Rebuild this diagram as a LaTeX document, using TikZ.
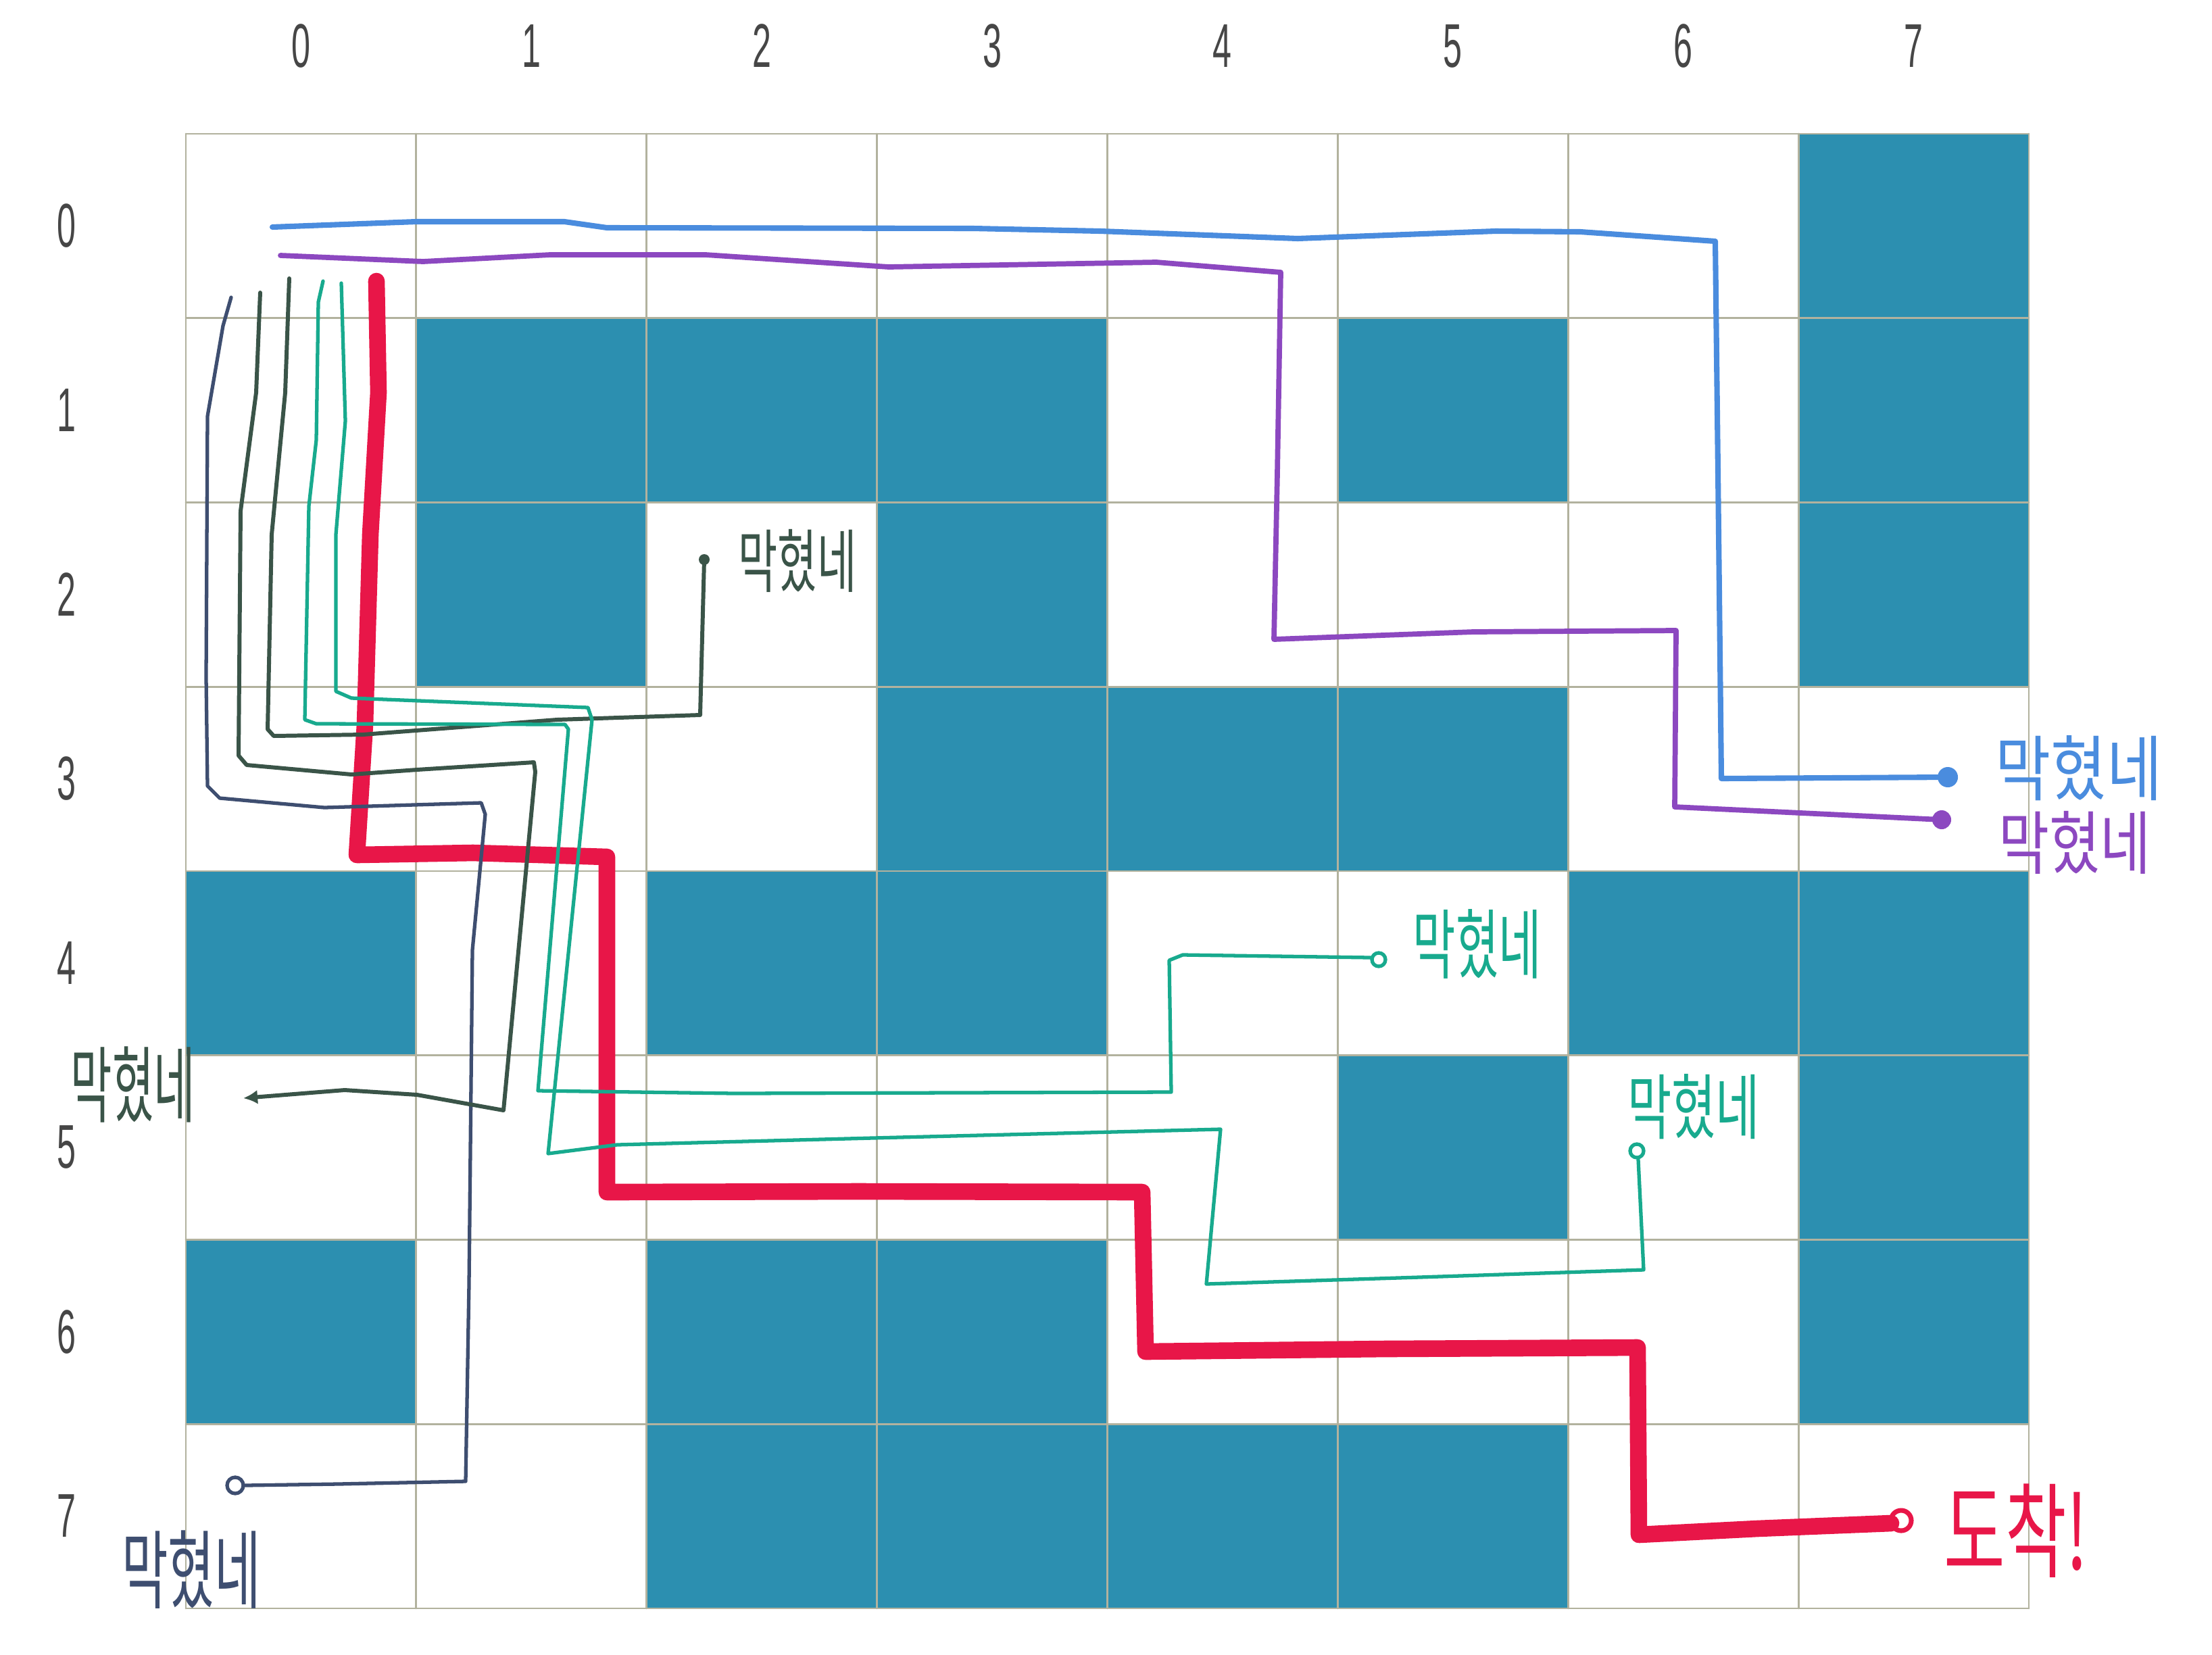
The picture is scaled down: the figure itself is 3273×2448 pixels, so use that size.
\documentclass[tikz,border=0pt]{standalone}
\usepackage{fontspec}
\usepackage{graphicx}
\setmainfont{Liberation Sans}
\newfontfamily\kr{Noto Sans CJK KR}
\usetikzlibrary{arrows.meta}
\definecolor{cellblue}{RGB}{44,143,176}
\definecolor{gridc}{RGB}{178,178,158}
\definecolor{penblue}{RGB}{74,140,222}
\definecolor{penpurple}{RGB}{140,72,192}
\definecolor{pennavy}{RGB}{62,78,112}
\definecolor{pengreen}{RGB}{58,84,72}
\definecolor{penteal}{RGB}{24,170,142}
\definecolor{penred}{RGB}{232,22,72}
\definecolor{digitc}{RGB}{70,70,70}
\begin{document}
\begin{tikzpicture}[x=0.01cm,y=-0.01cm,line cap=round,line join=round,
  cellfill/.style={fill=cellblue},
  gridline/.style={draw=gridc,line width=0.8pt},
  digitlabel/.style={font=\fontsize{26}{26}\selectfont,text=digitc,inner sep=0pt},
  hand/.style={font=\kr\fontsize{20}{24}\selectfont,inner sep=0pt},
  redpen/.style={draw=penred,line width=7pt},
  bluepen/.style={draw=penblue,line width=2.3pt},
  purplepen/.style={draw=penpurple,line width=2.2pt},
  navypen/.style={draw=pennavy,line width=1.5pt},
  greenpen/.style={draw=pengreen,line width=1.7pt},
  tealpen/.style={draw=penteal,line width=1.5pt}]
\useasboundingbox (0,0) rectangle (3273,2448);
\fill[white] (0,0) rectangle (3273,2448);
% blocked cells
\foreach \r/\c in {0/7,1/1,1/2,1/3,1/5,1/7,2/1,2/3,2/7,3/3,3/4,3/5,4/0,4/2,4/3,4/6,4/7,5/5,5/7,6/0,6/2,6/3,6/7,7/2,7/3,7/4,7/5}
  \fill[cellfill] ({275+340.875*\c},{198+272.75*\r}) rectangle ++(340.875,272.75);
% grid
\foreach \i in {0,...,8} {
  \draw[gridline] ({275+340.875*\i},198) -- ({275+340.875*\i},2380);
  \draw[gridline] (275,{198+272.75*\i}) -- (3002,{198+272.75*\i});
}
% axis labels
\foreach \i in {0,...,7} {
  \node[digitlabel] (col\i) at ({445.4+340.875*\i},68) {\scalebox{0.55}[1]{\i}};
  \node[digitlabel] (row\i) at (98,{334+272.75*\i}) {\scalebox{0.55}[1]{\i}};
}
% named end points
\coordinate (redS) at (557,416);   \coordinate (redE) at (2798,2254);
\coordinate (blueS) at (403,336);  \coordinate (blueE) at (2882,1150);
\coordinate (purpS) at (415,378);  \coordinate (purpE) at (2873,1213);
\coordinate (navyS) at (342,440);  \coordinate (navyE) at (362,2198);
\coordinate (gtwoS) at (385,433);  \coordinate (gtwoE) at (360,1625);
\coordinate (gthrS) at (428,412);  \coordinate (gthrE) at (1042,828);
\coordinate (tonS) at (478,416);   \coordinate (tonE) at (2028,1417);
\coordinate (ttwS) at (505,419);   \coordinate (ttwE) at (2424,1716);
% red path
\draw[redpen] (redS) -- (560,581) -- (548,791) -- (540,1072) -- (528,1265) -- (700,1262) -- (898,1268) -- (898,1500) -- (898,1764) -- (1270,1763) -- (1690,1764) -- (1695,2000) -- (2050,1996) -- (2423,1994) -- (2425,2271) -- (2600,2262) -- (redE);
\draw[penred,line width=2pt] (2813,2250) circle (0.15cm);
% blue path
\draw[bluepen] (blueS) -- (616,328) -- (835,328) -- (898,337) -- (1440,338) -- (1628,342) -- (1920,353) -- (2213,342) -- (2338,343) -- (2538,357) -- (2542,700) -- (2547,1152) -- (blueE);
\fill[penblue] (blueE) circle (0.15cm);
% purple path
\draw[purplepen] (purpS) -- (626,387) -- (814,377) -- (1044,377) -- (1315,395) -- (1711,388) -- (1895,403) -- (1890,700) -- (1885,946) -- (2180,935) -- (2480,933) -- (2478,1194) -- (purpE);
\fill[penpurple] (purpE) circle (0.14cm);
% navy path
\draw[navypen] (navyS) -- (330,482) -- (307,616) -- (305,1002) -- (307,1163) -- (325,1181) -- (480,1195) -- (712,1188) -- (718,1205) -- (699,1406) -- (694,1900) -- (689,2192) -- (500,2196) -- (navyE);
\draw[pennavy,line width=1.5pt] (348,2198) circle (0.12cm);
% dark green paths
\draw[greenpen,-{Latex[length=6pt,width=6pt]}] (gtwoS) -- (379,581) -- (356,756) -- (353,1118) -- (365,1132) -- (520,1146) -- (617,1139) -- (790,1128) -- (792,1142) -- (745,1643) -- (617,1620) -- (510,1613) -- (gtwoE);
\draw[greenpen] (gthrS) -- (422,581) -- (402,791) -- (396,1079) -- (405,1089) -- (537,1087) -- (824,1065) -- (1036,1058) -- (gthrE);
\fill[pengreen] (gthrE) circle (0.08cm);
% teal paths
\draw[tealpen] (tonS) -- (471,447) -- (468,651) -- (457,749) -- (451,1065) -- (468,1071) -- (836,1072) -- (841,1079) -- (796,1614) -- (1087,1618) -- (1733,1616) -- (1730,1421) -- (1750,1413) -- (tonE);
\draw[penteal,line width=1.5pt] (2040,1420) circle (0.1cm);
\draw[tealpen] (ttwS) -- (511,623) -- (497,791) -- (497,1023) -- (520,1033) -- (870,1047) -- (876,1065) -- (811,1707) -- (913,1694) -- (1291,1684) -- (1806,1671) -- (1785,1900) -- (2100,1890) -- (2432,1879) -- (ttwE);
\draw[penteal,line width=1.5pt] (2422,1703) circle (0.1cm);
% handwritten labels
\node[hand,text=pengreen] (lblGthr) at (1180,830) {\scalebox{0.9}[1.45]{막혔네}};
\node[hand,text=penblue] (lblBlue) at (3076,1137) {\scalebox{1.27}[1.5]{막혔네}};
\node[hand,text=penpurple] (lblPurp) at (3070,1247) {\scalebox{1.16}[1.45]{막혔네}};
\node[hand,text=penteal] (lblTon) at (2186,1397) {\scalebox{0.98}[1.6]{막혔네}};
\node[hand,text=penteal] (lblTtw) at (2506,1638) {\scalebox{1.01}[1.5]{막혔네}};
\node[hand,text=pengreen] (lblGtwo) at (197,1605) {\scalebox{0.95}[1.75]{막혔네}};
\node[hand,text=pennavy] (lblNavy) at (283,2323) {\scalebox{1.06}[1.8]{막혔네}};
\node[hand,text=penred,font=\kr\fontsize{28}{32}\selectfont] (lblRed) at (2983,2265) {\scalebox{1}[1.55]{도착!}};
\end{tikzpicture}
\end{document}
